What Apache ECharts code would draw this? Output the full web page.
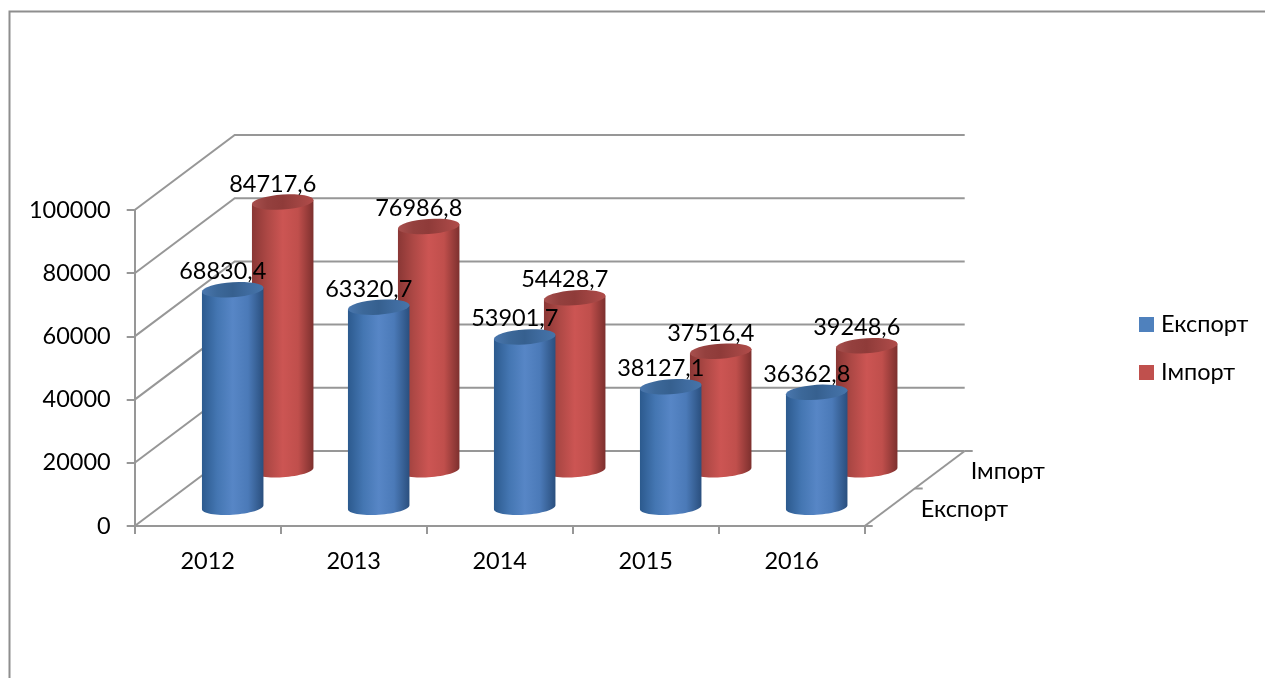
<!DOCTYPE html>
<html>
<head>
<meta charset="utf-8">
<title>Експорт та імпорт</title>
<script src="https://cdn.jsdelivr.net/npm/echarts@6/dist/echarts.min.js"></script>
<style>
  html, body { margin: 0; padding: 0; background: #fff; }
  #chart { width: 1265px; height: 678px; }
</style>
</head>
<body>
<div id="chart"></div>
<script>
const years = ['2012', '2013', '2014', '2015', '2016']
const exportValues = [68830.4, 63320.7, 53901.7, 38127.1, 36362.8]
const importValues = [84717.6, 76986.8, 54428.7, 37516.4, 39248.6]
const valueTicks = [0, 20000, 40000, 60000, 80000, 100000]
const depthNames = ['Експорт', 'Імпорт']

const FONT = 'Lato'
const FONT_SIZE = 23.5
const LINE = '#979797'
const DEPTH_X = 100
const DEPTH_Y = -75
const CYL_WIDTH = 61.5
const RY = 7.5
const TILT = 2

const chart = echarts.init(document.getElementById('chart'))

// точка еліпса циліндра, нахил дає зсув глибини
const ellipsePoints = (cx, cy, from, to) => {
  const rx = CYL_WIDTH / 2
  const pts = []
  for (let i = 0; i <= 32; i++) {
    const t = from + (to - from) * i / 32
    pts.push([cx + rx * Math.cos(t), cy + RY * Math.sin(t) - TILT * Math.cos(t)])
  }
  return pts
}

const horizontal = stops => new echarts.graphic.LinearGradient(0, 0, 1, 0,
  stops.map((color, i) => ({ offset: i / (stops.length - 1), color })))

const cylinderItem = (depth, bodyStops, topStops) => (params, api) => {
  const base = api.coord([api.value(0), 0])
  const head = api.coord([api.value(0), api.value(1)])
  const cx = base[0] + DEPTH_X * depth
  const baseY = base[1] + DEPTH_Y * depth
  const topY = head[1] + DEPTH_Y * depth
  const body = [
    ...ellipsePoints(cx, topY, Math.PI, 2 * Math.PI).slice(0, 1),
    ...ellipsePoints(cx, baseY, Math.PI, 0),
    ...ellipsePoints(cx, topY, 0, 0).slice(0, 1)
  ]
  return {
    type: 'group',
    children: [
      { type: 'polygon', shape: { points: body }, style: { fill: horizontal(bodyStops) } },
      { type: 'polygon', shape: { points: ellipsePoints(cx, topY, 0, 2 * Math.PI) }, style: { fill: horizontal(topStops) } },
      {
        type: 'text',
        style: {
          text: api.value(1).toFixed(1).replace('.', ','),
          x: cx - 10,
          y: topY - 18,
          align: 'center',
          verticalAlign: 'middle',
          font: `${FONT_SIZE}px ${FONT}`,
          fill: '#000'
        }
      }
    ]
  }
}

const wallItem = (params, api) => {
  const sys = params.coordSys
  const y = api.coord([0, api.value(0)])[1]
  const left = sys.x
  const right = sys.x + sys.width
  return {
    type: 'polyline',
    shape: { points: [[left, y], [left + DEPTH_X, y + DEPTH_Y], [right + DEPTH_X, y + DEPTH_Y]] },
    style: { stroke: LINE, lineWidth: 2, fill: null }
  }
}

const floorItem = (params, api) => {
  const sys = params.coordSys
  const right = sys.x + sys.width
  const y = api.coord([0, 0])[1]
  const segs = [0, 0.5, 1].map(f => ({
    type: 'line',
    shape: { x1: right + DEPTH_X * f, y1: y + DEPTH_Y * f, x2: right + DEPTH_X * f + 8, y2: y + DEPTH_Y * f },
    style: { stroke: LINE, lineWidth: 2 }
  }))
  segs.push({
    type: 'line',
    shape: { x1: right, y1: y, x2: right + DEPTH_X, y2: y + DEPTH_Y },
    style: { stroke: LINE, lineWidth: 2 }
  })
  depthNames.forEach((name, i) => {
    const f = i === 0 ? 0.25 : 0.75
    segs.push({
      type: 'text',
      style: {
        text: name,
        x: right + DEPTH_X * f + 31,
        y: y + DEPTH_Y * f + 2,
        align: 'left',
        verticalAlign: 'middle',
        font: `${FONT_SIZE}px ${FONT}`,
        fill: '#000'
      }
    })
  })
  return { type: 'group', children: segs }
}

chart.setOption({
  animation: false,
  backgroundColor: '#fff',
  textStyle: { fontFamily: FONT },
  grid: { left: 134.7, top: 210, width: 730, height: 316 },
  legend: {
    data: depthNames,
    orient: 'vertical',
    left: 1134,
    top: 307.5,
    icon: 'rect',
    itemWidth: 15,
    itemHeight: 15,
    itemGap: 24,
    selectedMode: false,
    textStyle: { fontFamily: FONT, fontSize: FONT_SIZE, color: '#000', padding: [0, 0, 0, 2] }
  },
  graphic: [
    {
      type: 'polyline',
      silent: true,
      shape: { points: [[9.5, 678], [9.5, 11.5], [1265, 11.5]] },
      style: { stroke: '#8e8e8e', lineWidth: 2, fill: null }
    }
  ],
  xAxis: {
    type: 'category',
    data: years,
    axisLine: { lineStyle: { color: LINE, width: 2 } },
    axisTick: { show: true, length: 8, lineStyle: { color: LINE, width: 2 } },
    axisLabel: { color: '#000', fontSize: FONT_SIZE, fontFamily: FONT, margin: 23 }
  },
  yAxis: {
    type: 'value',
    min: 0,
    max: 100000,
    interval: 20000,
    splitLine: { show: false },
    axisLine: { show: true, lineStyle: { color: LINE, width: 2 } },
    axisTick: { show: true, length: 8, lineStyle: { color: LINE, width: 2 } },
    axisLabel: {
      color: '#000',
      fontSize: FONT_SIZE,
      fontFamily: FONT,
      margin: 24,
      padding: [10, 0, 0, 0],
      formatter: value => String(value)
    }
  },
  series: [
    {
      name: 'walls',
      type: 'custom',
      silent: true,
      z: 1,
      encode: { y: 0 },
      data: valueTicks.map(v => [v]),
      renderItem: wallItem
    },
    {
      name: 'floor',
      type: 'custom',
      silent: true,
      z: 1,
      data: [[0]],
      renderItem: floorItem
    },
    {
      name: depthNames[1],
      type: 'custom',
      silent: true,
      z: 3,
      itemStyle: { color: '#c0504d' },
      encode: { x: 0, y: 1 },
      data: importValues.map((v, i) => [i, v]),
      renderItem: cylinderItem(0.75,
        ['#8a3735', '#ad4845', '#cc5553', '#c04f4c', '#7d302e'],
        ['#a8504e', '#94403e', '#8f3b39', '#a04442', '#b04c4a'])
    },
    {
      name: depthNames[0],
      type: 'custom',
      silent: true,
      z: 4,
      itemStyle: { color: '#4f81bd' },
      encode: { x: 0, y: 1 },
      data: exportValues.map((v, i) => [i, v]),
      renderItem: cylinderItem(0.25,
        ['#2c5a8e', '#4476b2', '#5786c6', '#4b7ab8', '#2a4f7e'],
        ['#4a77ae', '#3c6899', '#36608f', '#3f6b9f', '#4674a9'])
    }
  ]
})
</script>
</body>
</html>
